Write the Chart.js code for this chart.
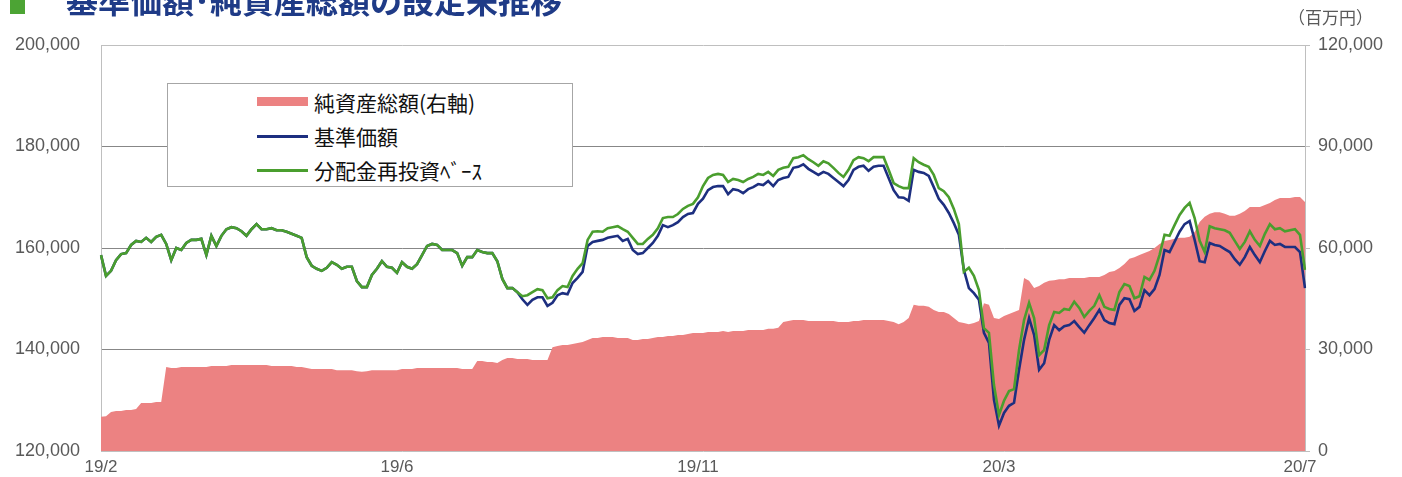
<!DOCTYPE html>
<html><head><meta charset="utf-8">
<script src="https://cdn.jsdelivr.net/npm/chart.js@4.4.0/dist/chart.umd.min.js"></script>
<style>
html,body{margin:0;padding:0;background:#fff;}
#wrap{position:relative;width:1402px;height:477px;overflow:hidden;}
#c{position:absolute;left:0;top:0;}
#sq{position:absolute;left:10px;top:0px;width:15px;height:14px;background:#4CA434;}
#title{position:absolute;left:66px;top:-21px;font-family:"Noto Sans CJK JP",sans-serif;font-weight:bold;font-size:32px;line-height:40px;color:#1F3B87;white-space:nowrap;}
#unit{position:absolute;left:1288px;top:6px;font-family:"Noto Sans CJK JP",sans-serif;font-size:17px;line-height:22px;color:#595959;}
#legend{position:absolute;left:167px;top:83px;width:404px;height:102px;border:1px solid #A6A6A6;background:#fff;font-family:"Noto Sans CJK JP",sans-serif;font-size:21px;color:#111;}
.row{position:absolute;left:0;height:30px;line-height:30px;}
.sw{position:absolute;left:89px;width:51px;}
.lt{position:absolute;left:146px;white-space:nowrap;}
</style></head>
<body><div id="wrap">
<canvas id="c" width="1402" height="477"></canvas>
<div id="sq"></div>
<div id="title">基準価額･純資産総額の設定来推移</div>
<div id="unit">（百万円）</div>
<div id="legend">
 <div class="row" style="top:3px;width:404px"><div class="sw" style="top:10px;height:9px;background:#EC8282"></div><div class="lt">純資産総額(右軸)</div></div>
 <div class="row" style="top:37px;width:404px"><div class="sw" style="top:14px;height:3px;background:#1D2F80"></div><div class="lt">基準価額</div></div>
 <div class="row" style="top:71px;width:404px"><div class="sw" style="top:14px;height:3px;background:#4A9E2E"></div><div class="lt">分配金再投資ﾍﾞｰｽ</div></div>
</div>
</div>
<script>
// Tick labels along the category axis
const tickLabels = ['19/2','19/6','19/11','20/3','20/7'];
const tickIndex = [0,59,119,179,239];

// 分配金再投資ベース (円)
const reinvest = [
158600,154500,155500,157600,158800,159000,160600,161400,161200,162000,
161200,162200,162600,160800,157600,160000,159600,161000,161600,161600,
161800,158600,162400,160400,162400,163700,164100,163900,163300,162400,
163700,164700,163700,163700,163900,163500,163500,163200,162800,162400,
162000,158200,156500,155900,155500,156100,157200,156700,155900,156300,
156300,153500,152300,152300,154700,155900,157400,156300,156100,155100,
157200,156300,155900,156800,158600,160400,160800,160600,159600,159600,
159600,159000,156500,158200,158200,159600,159200,159000,159000,157400,
153900,152100,152100,151300,150500,150700,151300,151900,151700,150100,
150300,151700,152500,152300,154500,155900,157000,161600,163200,163300,
163200,163900,164100,164300,163700,163200,162000,160800,160800,161800,
162600,163900,165900,166100,166100,166700,167700,168300,168700,170000,
172200,173800,174400,174600,174400,173000,173600,173400,173000,173600,
174000,174600,174400,175000,174200,175400,175800,176000,177700,177900,
178300,177500,176900,176200,177100,176700,175800,174800,174000,175400,
177300,177900,177700,177100,177900,177900,177900,175400,172800,172200,
171800,171800,177700,176900,176400,176000,174400,171800,171200,170000,
167700,164700,155300,156100,154500,151700,144200,143300,133000,127100,
129900,131800,132200,139900,145800,149200,146200,138900,139900,144800,
147400,147200,148000,147800,149400,148200,146400,147600,148600,150700,
148400,148000,147800,151300,152900,152500,150100,150500,154300,153700,
155500,158600,162600,162400,164500,166500,167900,168900,165900,161400,
159200,164300,163900,163700,163500,163000,161400,159800,161200,163300,
161600,160400,162800,164700,163700,163900,163300,163500,163700,162600,
155700];

// 基準価額 (円)
const nav = [
158600,154500,155500,157600,158800,159000,160600,161400,161200,162000,
161200,162200,162600,160800,157600,160000,159600,161000,161600,161600,
161800,158600,162400,160400,162400,163700,164100,163900,163300,162400,
163700,164700,163700,163700,163900,163500,163500,163200,162800,162400,
162000,158200,156500,155900,155500,156100,157200,156700,155900,156300,
156300,153500,152300,152300,154700,155900,157400,156300,156100,155100,
157200,156300,155900,156800,158600,160400,160800,160600,159600,159600,
159600,159000,156500,158200,158200,159600,159200,159000,159000,157400,
153900,152100,152100,151300,149900,148800,149800,150300,150300,148600,
149200,150700,151100,150900,153100,154100,155300,160400,161200,161400,
161600,162000,162200,162400,161400,161800,159600,158800,159000,160000,
161000,162400,164500,164100,164500,165100,166100,166700,166900,168700,
169700,171400,172000,172200,172200,170600,171600,171400,170800,171600,
172000,172600,172400,173200,172200,173400,173800,174000,175800,176000,
176500,175600,175000,174400,175000,174600,173800,173000,172200,173400,
175400,176000,176200,175200,176000,176200,176200,173800,171400,170000,
169900,169300,175400,175000,174800,174200,172000,169700,168500,166900,
164900,162600,155700,152100,151100,149800,143300,141300,130100,125000,
127500,128900,129500,136000,141900,146200,142900,136000,137300,141900,
144800,143800,144600,144800,145600,144400,143300,144800,146200,147800,
145800,145200,145000,148800,150100,149900,147600,148400,151700,150700,
151900,154700,159600,159200,161200,163200,164700,165300,161600,157400,
157200,161000,160600,160400,159800,159200,157800,156700,158200,160200,
158600,157200,159400,161400,160600,160800,160200,160200,160200,159200,
152100];

// 純資産総額 (百万円)
const assets = [
10100,10300,11500,11800,11800,12100,12100,12400,14200,14200,
14200,14500,14500,24800,24500,24500,24800,24800,24800,24800,
24800,24800,25100,25100,25100,25100,25400,25400,25400,25400,
25400,25400,25400,25400,25100,25100,25100,25100,25100,24800,
24800,24500,24200,24200,24200,24200,24200,23900,23900,23900,
23900,23600,23400,23600,23900,23900,23900,23900,23900,23900,
24200,24200,24200,24500,24500,24500,24500,24500,24500,24500,
24500,24500,24200,24200,24200,26600,26600,26300,26300,26000,
26900,27500,27500,27200,27200,27200,26900,26900,26900,26900,
30700,31000,31300,31300,31600,31900,32200,32800,33400,33400,
33700,33700,33700,33400,33400,33400,32800,32800,33100,33100,
33400,33700,33700,34000,34000,34300,34300,34600,34900,34900,
34900,35200,35200,35200,35500,35200,35500,35500,35500,35800,
35800,35800,35800,36100,36100,36400,38100,38400,38700,38700,
38700,38400,38400,38400,38400,38400,38400,38100,38100,38100,
38400,38400,38700,38700,38700,38700,38700,38400,38100,37500,
38100,39300,43200,42900,42900,42600,41700,41100,41100,40500,
39300,38100,37800,37500,37800,38400,43700,43200,39300,39000,
39900,40500,41100,41700,51100,50300,48200,48800,49700,50300,
50500,50800,50800,51100,51100,51100,51100,51400,51400,51400,
52000,52900,53200,54100,55300,56800,57300,57900,58500,59100,
60000,61200,62100,62400,62700,63000,63000,63300,64700,67700,
69200,70100,70600,70600,70100,69500,69500,70100,70900,72100,
72100,72100,72700,73300,74200,74800,74800,74800,75100,75100,
73600];

const categories = assets.map((_, i) => {
  const k = tickIndex.indexOf(i);
  return k >= 0 ? tickLabels[k] : '';
});

const fmt = v => Number(v).toLocaleString('en-US');
const tickFont = {family: '"Liberation Sans", Arial, sans-serif', size: 18};

new Chart(document.getElementById('c'), {
  type: 'line',
  data: {
    labels: categories,
    datasets: [
      {label:'分配金再投資ﾍﾞｰｽ', data: reinvest, yAxisID:'y', borderColor:'#4A9E2E', borderWidth:2.6, pointRadius:0, fill:false, tension:0, order:0},
      {label:'基準価額', data: nav, yAxisID:'y', borderColor:'#1D2F80', borderWidth:2.6, pointRadius:0, fill:false, tension:0, order:1},
      {label:'純資産総額(右軸)', data: assets, yAxisID:'y2', borderWidth:0, borderColor:'rgba(0,0,0,0)', backgroundColor:'#EC8282', pointRadius:0, fill:'origin', tension:0, order:2}
    ]
  },
  options: {
    responsive:false, animation:false, devicePixelRatio:1,
    layout:{padding:{top:45,left:0,right:0,bottom:0}},
    plugins:{legend:{display:false}, tooltip:{enabled:false}},
    scales:{
      x:{
        type:'category', offset:false,
        grid:{display:true, drawOnChartArea:false, drawTicks:false},
        border:{display:true, color:'#BFBFBF', width:1},
        ticks:{autoSkip:false, maxRotation:0, minRotation:0, padding:6, color:'#595959',
               font:{family:'"Liberation Sans Narrow","Liberation Sans",sans-serif', size:17},
               callback:(v,i)=>categories[i]},
        afterFit:s=>{s.height=26;}
      },
      y:{
        position:'left', min:120000, max:200000,
        ticks:{stepSize:20000, padding:13, color:'#595959', font:tickFont, callback:v=>fmt(v)},
        grid:{drawTicks:true, tickLength:8, tickColor:'rgba(0,0,0,0)', lineWidth:1, color:c=> c.tick && c.tick.value===200000 ? '#BFBFBF' : (c.tick && c.tick.value===120000 ? 'rgba(0,0,0,0)' : '#878787')},
        border:{display:true, color:'#BFBFBF', width:1},
        afterFit:s=>{s.width=101;}
      },
      y2:{
        position:'right', min:0, max:120000,
        ticks:{stepSize:30000, padding:8, color:'#595959', font:tickFont, callback:v=>fmt(v)},
        grid:{drawOnChartArea:false, drawTicks:true, tickLength:5, color:'#BFBFBF'},
        border:{display:true, color:'#BFBFBF', width:1},
        afterFit:s=>{s.width=97;}
      }
    }
  }
});
</script>
</body></html>
